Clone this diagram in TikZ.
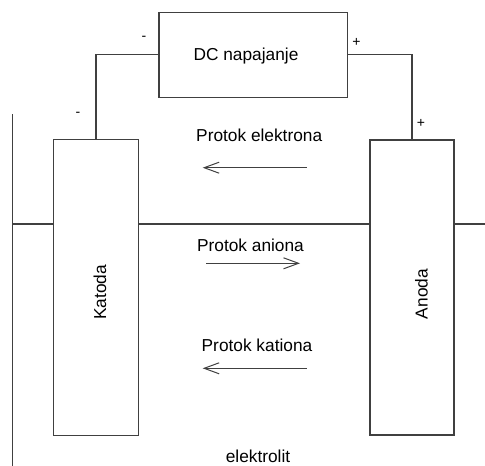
\documentclass[tikz,border=0pt]{standalone}
\usepackage{fontspec}
\setmainfont{Liberation Sans}
\usetikzlibrary{arrows.meta}
\definecolor{wire}{HTML}{404040}
\begin{document}
\begin{tikzpicture}[x=1pt,y=-1pt,
  every node/.style={inner sep=0pt, outer sep=0pt},
  box/.style={draw=wire, line width=1.1pt, fill=white},
  lbl/.style={font=\fontsize{17.3}{20}\selectfont, anchor=base, text=black},
  sgn/.style={font=\fontsize{14}{16}\selectfont, text=black},
  wireline/.style={draw=wire, line width=1.1pt},
  flow/.style={draw=wire, line width=1pt, -{Straight Barb[length=15pt,width=11pt,line width=1pt]}}]
\useasboundingbox (0,0) rectangle (485,466);
% electrolyte boundary
\coordinate (lt) at (12.3,114);
\coordinate (lb) at (12.3,466);
\coordinate (ll) at (12.3,224);
\coordinate (rr) at (485,224);
% boxes
\node[box, minimum width=188.6pt, minimum height=85pt] (dc) at (253.3,54.8) {};
\node[box, minimum width=84.6pt, minimum height=295.5pt] (kat) at (96,287.5) {};
\node[box, minimum width=84pt, minimum height=295pt] (an) at (412,287.5) {};
% texts
\node[lbl] (dct) at (246,60) {DC napajanje};
\node[lbl, rotate=90] (katt) at (106,292.5) {Katoda};
\node[lbl, rotate=90] (ant) at (427.7,294) {Anoda};
\node[lbl] (pe) at (259.2,141.7) {Protok elektrona};
\node[lbl] (pa) at (250.5,251.7) {Protok aniona};
\node[lbl] (pk) at (257,351.7) {Protok kationa};
\node[lbl] (el) at (258,462.5) {elektrolit};
% signs
\node[sgn] (m1) at (144,38.5) {-};
\node[sgn] (p1) at (356.5,42.5) {+};
\node[sgn] (m2) at (78,114.5) {-};
\node[sgn] (p2) at (421,123.5) {+};
% wires
\draw[wireline] (dc.west) -| (kat.north);
\draw[wireline] (dc.east) -| (an.north);
% electrolyte lines
\draw[wireline] (lt) -- (lb);
\draw[wireline] (ll) -- (kat.west |- ll);
\draw[wireline] (kat.east |- ll) -- (an.west |- ll);
\draw[wireline] (an.east |- ll) -- (rr);
% flow arrows
\coordinate (e1) at (306.7,167.7);
\coordinate (e2) at (202.7,167.7);
\coordinate (a1) at (206,263.3);
\coordinate (a2) at (300,263.3);
\coordinate (k1) at (306.7,368.3);
\coordinate (k2) at (202.7,368.3);
\draw[flow] (e1) -- (e2);
\draw[flow] (a1) -- (a2);
\draw[flow] (k1) -- (k2);
\end{tikzpicture}
\end{document}
